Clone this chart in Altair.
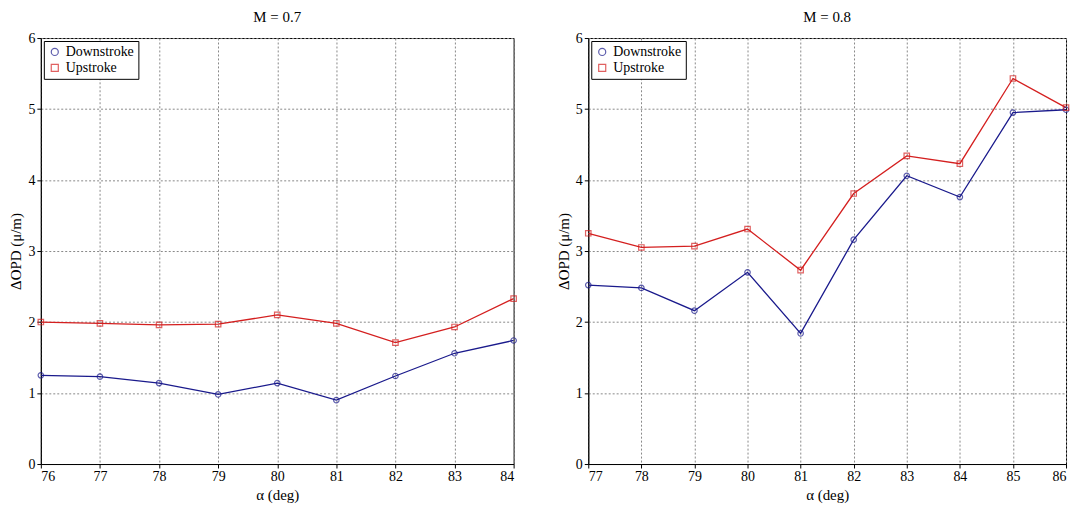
import altair as alt
import pandas as pd

x_left = [76, 77, 78, 79, 80, 81, 82, 83, 84]
down_left = [1.25, 1.23, 1.14, 0.98, 1.14, 0.90, 1.24, 1.56, 1.74]
up_left = [2.00, 1.98, 1.96, 1.97, 2.10, 1.98, 1.71, 1.93, 2.33]

x_right = [77, 78, 79, 80, 81, 82, 83, 84, 85, 86]
down_right = [2.52, 2.48, 2.16, 2.70, 1.84, 3.16, 4.06, 3.76, 4.95, 4.99]
up_right = [3.25, 3.05, 3.07, 3.31, 2.73, 3.81, 4.34, 4.23, 5.43, 5.02]

FONT = "Liberation Serif"
SER = ["Downstroke", "Upstroke"]
COL = ["#1a1a8c", "#d41f1f"]

def frame(xs, d, u):
    rows = []
    for x, a, b in zip(xs, d, u):
        rows.append({"alpha": x, "val": a, "series": "Downstroke"})
        rows.append({"alpha": x, "val": b, "series": "Upstroke"})
    return pd.DataFrame(rows)

def panel(xs, d, u, title, w):
    df = frame(xs, d, u)
    color = alt.Color("series:N", scale=alt.Scale(domain=SER, range=COL),
                      legend=alt.Legend(title=None, orient="top-left", fillColor="white",
                                        strokeColor="black", padding=4, offset=3,
                                        labelFont=FONT, labelFontSize=14, symbolSize=50,
                                        symbolStrokeWidth=1.2))
    shape = alt.Shape("series:N", scale=alt.Scale(domain=SER, range=["circle", "square"]), legend=None)
    x = alt.X("alpha:Q", scale=alt.Scale(domain=[xs[0], xs[-1]], nice=False, zero=False),
              axis=alt.Axis(title="α (deg)", values=xs, format="d", gridDash=[2, 2], gridColor="#888"))
    y = alt.Y("val:Q", scale=alt.Scale(domain=[0, 6]),
              axis=alt.Axis(title="ΔOPD (μ/m)", values=[0, 1, 2, 3, 4, 5, 6], gridDash=[2, 2],
                            gridColor="#888", titlePadding=4))
    base = alt.Chart(df).encode(x=x, y=y, color=color, detail="series:N")
    line = base.mark_line(strokeWidth=1.3)
    pts = base.mark_point(filled=False, size=30, strokeWidth=1.2).encode(shape=shape)
    return (line + pts).properties(width=w, height=428,
                                   title=alt.TitleParams(title, font=FONT, fontSize=15, fontWeight="normal", offset=6))

chart = alt.hconcat(
    panel(x_left, down_left, up_left, "M = 0.7", 475),
    panel(x_right, down_right, up_right, "M = 0.8", 480),
    spacing=36,
).resolve_scale(color="independent", shape="independent").resolve_legend(
    color="independent", shape="independent"
).configure_axis(
    labelFont=FONT, titleFont=FONT, labelFontSize=14, titleFontSize=15, titleFontWeight="normal",
    domainColor="black", tickColor="black", labelColor="black", titleColor="black", tickSize=4,
).configure_view(stroke="black").properties(padding={"left": 0, "top": 0, "right": 0, "bottom": 0})

chart.save("out.html", embed_options={"renderer": "svg", "actions": False})
